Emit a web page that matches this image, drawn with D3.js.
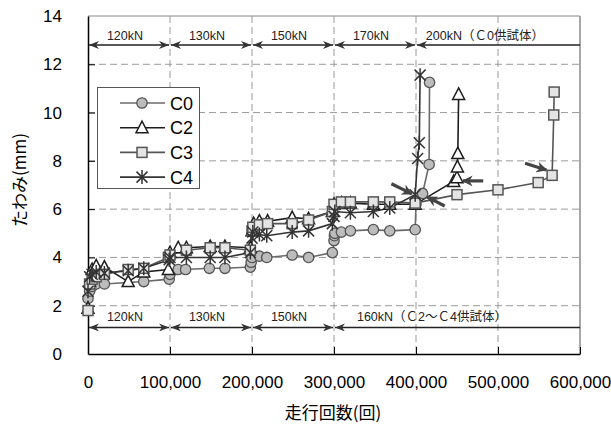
<!DOCTYPE html>
<html><head><meta charset="utf-8">
<script src="https://cdn.jsdelivr.net/npm/d3@7"></script>
<style>body{margin:0;background:#fff}svg{display:block}</style>
</head><body>
<svg id="c" width="611" height="432"></svg>
<script>
// ---- data (x in cycles, y in mm) ----
const seriesNames = ["C0","C2","C3","C4"];
const C0 = [[0,2.3],[2000,2.6],[5000,2.8],[10000,2.9],[20000,2.9],[68000,3.0],[99000,3.1],[100000,3.3],[110000,3.5],[119000,3.5],[148000,3.55],[167000,3.55],[198000,3.6],[199000,3.8],[200000,4.0],[209000,4.05],[218000,4.0],[249000,4.1],[269000,4.0],[298000,4.2],[300000,4.7],[300500,4.9],[301000,5.0],[309000,5.05],[320000,5.1],[348000,5.15],[368000,5.1],[399000,5.15],[400000,6.2],[408000,6.65],[416000,7.85],[416500,11.25]];
const C2 = [[0,1.9],[2000,3.0],[5000,3.5],[10000,3.65],[20000,3.6],[49000,3.0],[68000,3.4],[98000,3.5],[100000,4.2],[110000,4.4],[120000,4.4],[149000,4.45],[167000,4.45],[198000,4.4],[200000,5.1],[202000,5.4],[209000,5.5],[219000,5.5],[249000,5.65],[269000,5.6],[298000,5.9],[300000,6.2],[309000,6.25],[320000,6.25],[348000,6.2],[368000,6.2],[399000,6.2],[446000,7.15],[450000,7.3],[450500,7.75],[451000,8.3],[452000,10.75]];
const C3 = [[0,1.8],[2000,2.9],[5000,3.1],[10000,3.2],[20000,3.3],[49000,3.5],[68000,3.55],[98000,4.0],[100000,4.1],[120000,4.3],[149000,4.4],[167000,4.4],[198000,4.3],[200000,5.1],[201000,5.25],[209000,5.35],[219000,5.4],[249000,5.4],[269000,5.55],[298000,5.9],[300000,6.2],[309000,6.3],[320000,6.3],[348000,6.3],[368000,6.3],[399000,6.25],[450000,6.6],[500000,6.8],[549000,7.1],[566000,7.4],[568000,9.9],[568500,10.85]];
const C4 = [[0,2.6],[2000,3.2],[5000,3.3],[10000,3.4],[20000,3.35],[49000,3.45],[68000,3.55],[99000,3.9],[100000,4.0],[120000,4.0],[149000,4.0],[167000,4.0],[198000,4.2],[200000,4.8],[201000,5.05],[209000,4.95],[218000,4.9],[249000,5.05],[269000,5.1],[298000,5.4],[300000,5.7],[301000,5.9],[320000,5.85],[348000,5.9],[368000,6.05],[399000,6.6],[402000,8.1],[404000,8.75],[405000,11.55]];
const xTicks = [0,100000,200000,300000,400000,500000,600000];
const yTicks = [0,2,4,6,8,10,12,14];
const topBounds = [0,100000,200000,300000,400000,600000];
const topLabels = ["120kN","130kN","150kN","170kN","200kN（Ｃ0供試体）"];
const topLevel = 12.8;
const botBounds = [0,100000,200000,300000,600000];
const botLabels = ["120kN","130kN","150kN","160kN（Ｃ2～Ｃ4供試体）"];
const botLevel = 1.1;
const pointerArrows = [[370000,7.05,395000,6.63],[435000,6.13,414000,6.5],[482000,7.17,457000,7.17],[533000,7.9,559000,7.62]];
const xTitle = "走行回数(回)";
const yTitle = "たわみ(mm)";

// ---- drawing ----
const svg = d3.select("#c");
const L=88, R=580, T=16, B=354;
const x = d3.scaleLinear().domain([0,600000]).range([L,R]);
const y = d3.scaleLinear().domain([0,14]).range([B,T]);
const fnum = "'Liberation Sans', Arial, 'Noto Sans CJK JP', sans-serif";
const fjp = "'Liberation Sans', 'Noto Sans CJK JP', sans-serif";

const defs = svg.append("defs");
defs.append("marker").attr("id","ah").attr("viewBox","0 0 10 8").attr("refX",10).attr("refY",4)
  .attr("markerWidth",10).attr("markerHeight",8).attr("markerUnits","userSpaceOnUse").attr("orient","auto-start-reverse")
  .append("path").attr("d","M0,0L10,4L0,8L3,4Z").attr("fill","#333");
defs.append("marker").attr("id","ph").attr("viewBox","0 0 10 10").attr("refX",9).attr("refY",5)
  .attr("markerWidth",11).attr("markerHeight",11).attr("markerUnits","userSpaceOnUse").attr("orient","auto")
  .append("path").attr("d","M0,0L10,5L0,10L3,5Z").attr("fill","#444");

// grid
const g = svg.append("g");
g.selectAll(".hg").data(yTicks.filter(d=>d>0&&d<14)).join("line")
  .attr("x1",L).attr("x2",R).attr("y1",d=>y(d)).attr("y2",d=>y(d))
  .attr("stroke","#9a9a9a").attr("stroke-dasharray","7,4");
g.selectAll(".vg").data(xTicks.filter(d=>d>0&&d<600000)).join("line")
  .attr("y1",T).attr("y2",B).attr("x1",d=>x(d)).attr("x2",d=>x(d))
  .attr("stroke","#9a9a9a").attr("stroke-dasharray","7,4");
// frame
svg.append("line").attr("x1",L).attr("x2",R).attr("y1",T).attr("y2",T).attr("stroke","#888");
svg.append("line").attr("x1",R).attr("x2",R).attr("y1",T).attr("y2",B).attr("stroke","#888").attr("stroke-width",1.5);

// axes
const xa = svg.append("g").attr("transform",`translate(0,${B})`)
  .call(d3.axisBottom(x).tickValues(xTicks).tickSizeInner(-7).tickSizeOuter(0).tickFormat(d3.format(",")).tickPadding(22));
const ya = svg.append("g").attr("transform",`translate(${L},0)`)
  .call(d3.axisLeft(y).tickValues(yTicks).tickSizeInner(-7).tickSizeOuter(0).tickPadding(26));
[xa,ya].forEach(a=>{a.select(".domain").attr("stroke","#000").attr("stroke-width",1.5);
  a.selectAll(".tick line").attr("stroke","#000");
  a.selectAll("text").attr("font-family",fnum).attr("font-size",17).attr("fill","#000");});
ya.selectAll(".tick").filter(d=>d===0||d===14).select("line").remove();

// load annotations
function loadBand(bounds, labels, level, lastOpen, labelDy, startLast){
  const gg = svg.append("g");
  const yy = y(level);
  for(let i=0;i<labels.length;i++){
    const a=bounds[i], b=bounds[i+1];
    const open = lastOpen && i===labels.length-1;
    gg.append("line").attr("x1",x(a)+1).attr("x2",open?x(b):x(b)-1).attr("y1",yy).attr("y2",yy)
      .attr("stroke","#222").attr("stroke-width",1.5)
      .attr("marker-start","url(#ah)").attr("marker-end",open?null:"url(#ah)");
    const last = i===labels.length-1;
    gg.append("text").attr("x", last ? x(startLast) : (x(a)+x(b))/2 - 4)
      .attr("y",yy+labelDy).attr("text-anchor",last?"start":"middle")
      .attr("font-family",fjp).attr("font-size",12.5).attr("fill","#222").text(labels[i]);
  }
}
loadBand(topBounds, topLabels, topLevel, true, -5, 412000);
loadBand(botBounds, botLabels, botLevel, true, -6, 328000);

// series
const lineGen = d3.line().x(d=>x(d[0])).y(d=>y(d[1]));
const styles = {
  C0:{line:"#6a6a6a"}, C2:{line:"#1e1e1e"}, C3:{line:"#555"}, C4:{line:"#333"}
};
const all = {C0,C2,C3,C4};
function marker(sel, name){
  if(name==="C0") sel.append("circle").attr("r",5.2).attr("fill","#bcbcbc").attr("stroke","#555").attr("stroke-width",1.3);
  if(name==="C2") sel.append("path").attr("d","M0,-6.5L6,5L-6,5Z").attr("fill","#fff").attr("stroke","#1e1e1e").attr("stroke-width",1.5);
  if(name==="C3") sel.append("rect").attr("x",-5).attr("y",-5).attr("width",10).attr("height",10).attr("fill","#e4e4e4").attr("stroke","#555").attr("stroke-width",1.5);
  if(name==="C4") sel.append("path").attr("d","M-5.5,-5.5L5.5,5.5M-5.5,5.5L5.5,-5.5M0,-7L0,7").attr("fill","none").attr("stroke","#333").attr("stroke-width",1.5);
}
seriesNames.forEach(n=>{
  svg.append("path").datum(all[n]).attr("d",lineGen).attr("fill","none").attr("stroke",styles[n].line).attr("stroke-width",1.6);
});
seriesNames.forEach(n=>{
  svg.append("g").selectAll("g").data(all[n]).join("g")
    .attr("transform",d=>`translate(${x(d[0])},${y(d[1])})`).each(function(){marker(d3.select(this),n);});
});

// pointer arrows
svg.append("g").selectAll("line").data(pointerArrows).join("line")
  .attr("x1",d=>x(d[0])).attr("y1",d=>y(d[1])).attr("x2",d=>x(d[2])).attr("y2",d=>y(d[3]))
  .attr("stroke","#444").attr("stroke-width",3.2).attr("marker-end","url(#ph)");

// legend
const lg = svg.append("g");
lg.append("rect").attr("x",97.5).attr("y",87.5).attr("width",102).attr("height",101).attr("fill","#fff").attr("stroke","#555");
seriesNames.forEach((n,i)=>{
  const yy = 103 + i*24.7;
  lg.append("line").attr("x1",120).attr("x2",165).attr("y1",yy).attr("y2",yy).attr("stroke",styles[n].line).attr("stroke-width",1.6);
  const m = lg.append("g").attr("transform",`translate(142,${yy})`); marker(m,n);
  lg.append("text").attr("x",170).attr("y",yy+6.5).attr("font-family",fnum).attr("font-size",18).attr("fill","#000").text(n);
});

// titles
svg.append("text").attr("x",333).attr("y",419).attr("text-anchor","middle").attr("font-family","'Noto Sans CJK JP', sans-serif").attr("font-size",17).text(xTitle);
svg.append("text").attr("transform","translate(26,180) rotate(-90)").attr("text-anchor","middle").attr("font-family","'Noto Sans CJK JP', sans-serif").attr("font-size",17).text(yTitle);
</script>
</body></html>
